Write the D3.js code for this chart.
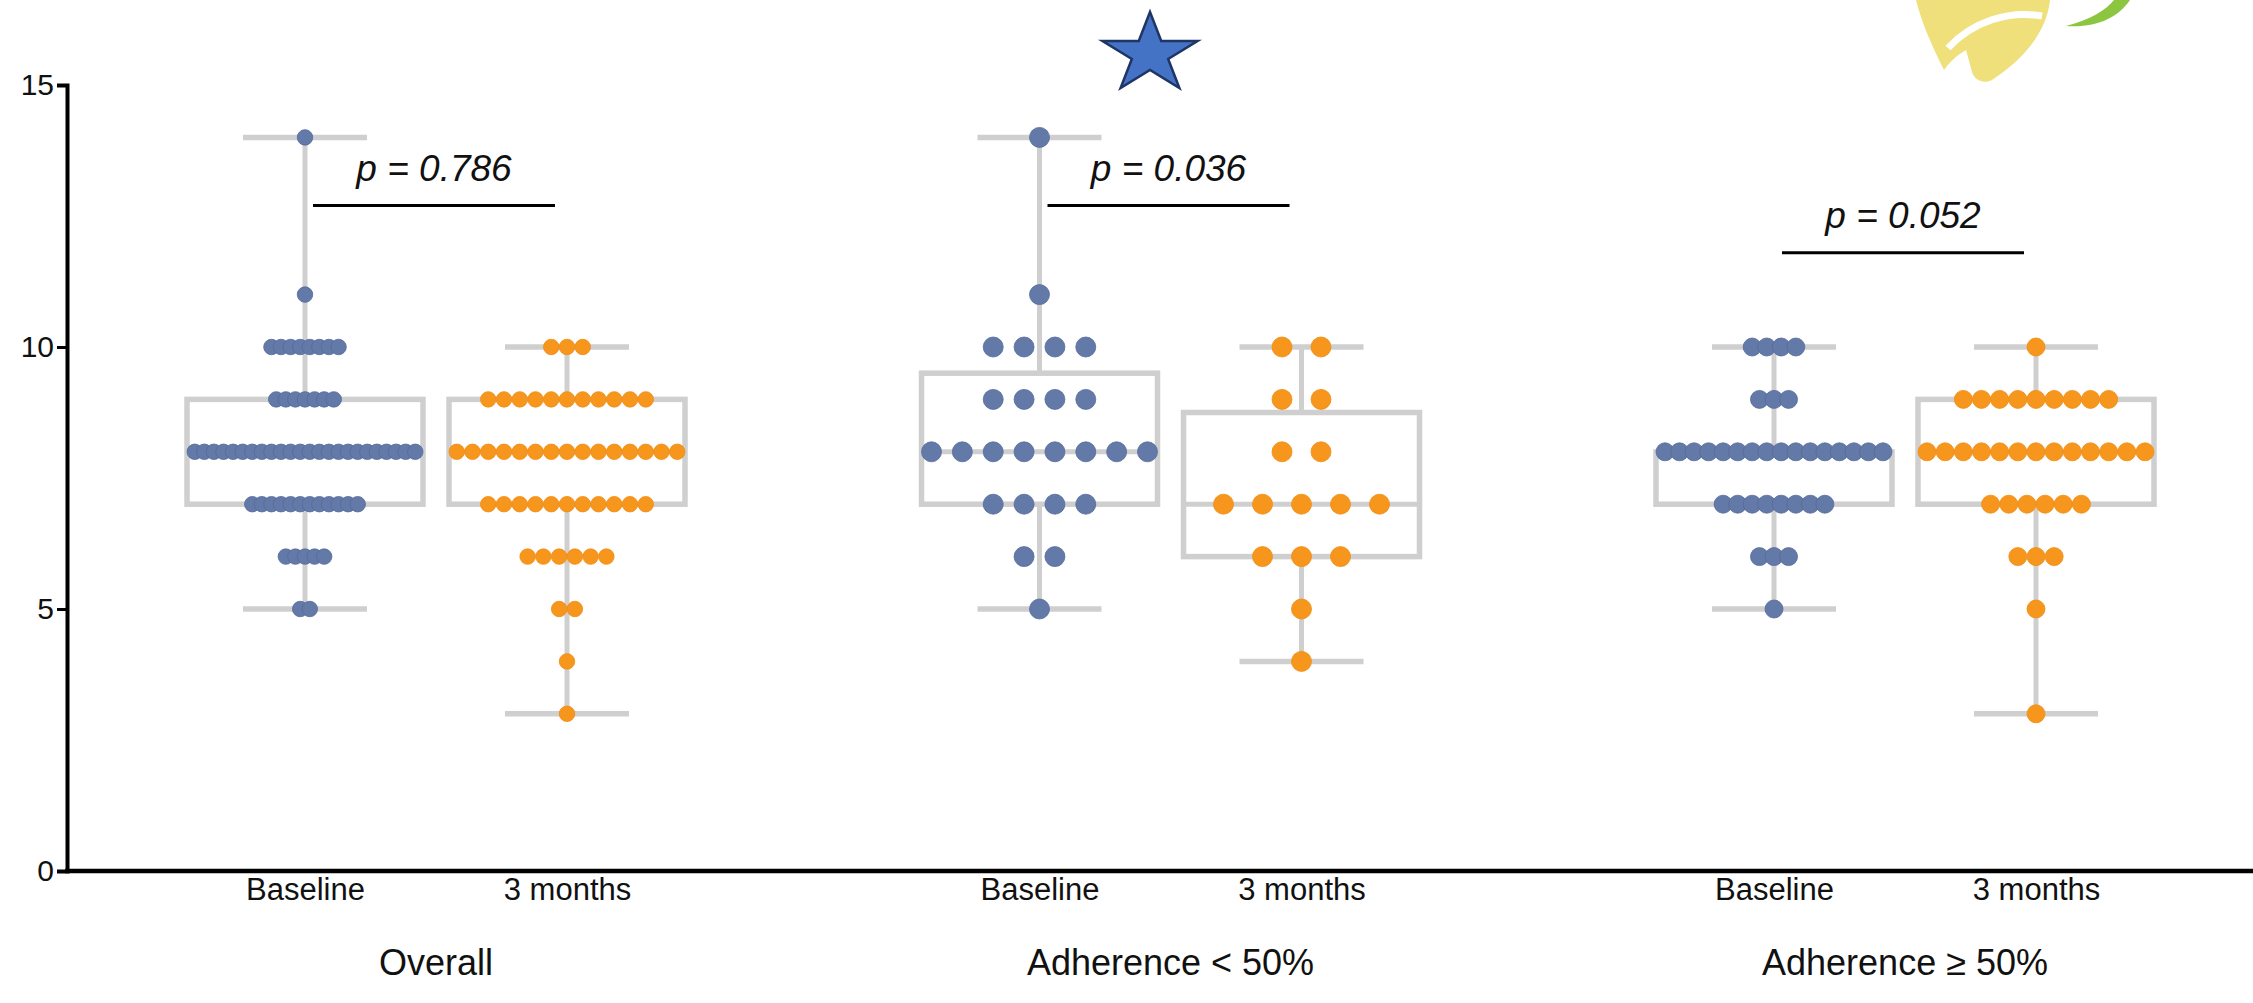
<!DOCTYPE html>
<html>
<head>
<meta charset="utf-8">
<script src="https://cdn.jsdelivr.net/npm/d3@7"></script>
<style>
  html, body { margin: 0; padding: 0; background: #ffffff; }
  svg { display: block; }
  text { font-family: "Liberation Sans", Arial, sans-serif; }
</style>
</head>
<body>
<svg id="chart" width="2253" height="1003"></svg>
<script>
// ---------------- DATA ----------------
const groups = ["Overall", "Adherence < 50%", "Adherence \u2265 50%"];
const timepoints = ["Baseline", "3 months"];
const scoreLevels = [3, 4, 5, 6, 7, 8, 9, 10, 11, 12, 13, 14];
// number of participants at each score level (same order as scoreLevels)
const overallBaseline   = [0, 0, 2, 5, 12, 24, 7, 8, 1, 0, 0, 1];
const overall3Months    = [1, 1, 2, 6, 11, 15, 11, 3, 0, 0, 0, 0];
const lowAdhBaseline    = [0, 0, 1, 2, 4, 8, 4, 4, 1, 0, 0, 1];
const lowAdh3Months     = [0, 1, 1, 3, 5, 2, 2, 2, 0, 0, 0, 0];
const highAdhBaseline   = [0, 0, 1, 3, 8, 16, 3, 4, 0, 0, 0, 0];
const highAdh3Months    = [1, 0, 1, 3, 6, 13, 9, 1, 0, 0, 0, 0];
const pValueLabels = ["p = 0.786", "p = 0.036", "p = 0.052"];
const pBarLevels = [12.7, 12.7, 11.8];
const yTicks = [0, 5, 10, 15];

// ---------------- LAYOUT / STYLE ----------------
const W = 2253, H = 1003;
const colors = { "Baseline": "#6379a7", "3 months": "#f7961d" };
const boxGray = "#cfcfcf";
const dotSize = { "Overall": 15.5, "Adherence < 50%": 20, "Adherence \u2265 50%": 18 };
const boxW = 236, capW = 124;

const seriesByGroup = {
  "Overall": { "Baseline": overallBaseline, "3 months": overall3Months },
  "Adherence < 50%": { "Baseline": lowAdhBaseline, "3 months": lowAdh3Months },
  "Adherence \u2265 50%": { "Baseline": highAdhBaseline, "3 months": highAdh3Months }
};

const svg = d3.select("#chart");
svg.append("rect").attr("width", W).attr("height", H).attr("fill", "#fff");

const y = d3.scaleLinear().domain([0, 15]).range([871, 85]);
const xGroup = d3.scalePoint().domain(groups).range([436, 1905]);
const xTime = d3.scalePoint().domain(timepoints).range([-131, 131]);

// ---------- decorative logo fragment (top right) ----------
const logo = svg.append("g");
logo.append("path")
  .attr("d", "M1916,0 L2050,0 C2047,30 2026,58 1992,80 C1984,84 1975,81 1972,72 L1966,50 C1956,56 1950,62 1944,70 C1933,48 1922,24 1916,0 Z")
  .attr("fill", "#efe07c");
logo.append("path")
  .attr("d", "M1948,48 C1972,22 2008,10 2042,16")
  .attr("fill", "none").attr("stroke", "#fff").attr("stroke-width", 7);
logo.append("path")
  .attr("d", "M2066,26 C2090,20 2106,10 2114,0 L2130,0 C2118,18 2096,28 2066,26 Z")
  .attr("fill", "#8cc540");

// ---------- star ----------
(function drawStar() {
  const cx = 1150, cy = 54, rx = 50, ry = 42, inner = 0.382;
  const pts = d3.range(10).map(i => {
    const a = -Math.PI / 2 + i * Math.PI / 5;
    const r = i % 2 === 0 ? 1 : inner;
    return [cx + rx * r * Math.cos(a), cy + ry * r * Math.sin(a)];
  });
  svg.append("path")
    .attr("d", d3.line()(pts) + "Z")
    .attr("fill", "#4472c4")
    .attr("stroke", "#1f3565")
    .attr("stroke-width", 2.5)
    .attr("stroke-linejoin", "miter");
})();

// ---------- axes ----------
const yAxis = d3.axisLeft(y).tickValues(yTicks).tickSize(10).tickPadding(3);
const gy = svg.append("g").attr("transform", "translate(67,0)").call(yAxis);
gy.select(".domain").attr("stroke", "#000").attr("stroke-width", 4);
gy.selectAll(".tick line").attr("stroke", "#000").attr("stroke-width", 3);
gy.selectAll(".tick text").attr("font-size", 30).attr("fill", "#111")
  .style("font-family", "'Liberation Sans', Arial, sans-serif");

svg.append("line")
  .attr("x1", 65).attr("x2", W).attr("y1", y(0)).attr("y2", y(0))
  .attr("stroke", "#000").attr("stroke-width", 4.5);

// quantile with (n+1) positioning
function quant(sorted, p) {
  const n = sorted.length;
  const pos = p * (n + 1);
  const lo = Math.floor(pos), frac = pos - lo;
  if (lo < 1) return sorted[0];
  if (lo >= n) return sorted[n - 1];
  return sorted[lo - 1] + frac * (sorted[lo] - sorted[lo - 1]);
}

groups.forEach((g, gi) => {
  const gx = xGroup(g);
  const gG = svg.append("g").attr("transform", `translate(${gx},0)`);

  // bottom tick labels per group
  const xAxis = d3.axisBottom(xTime).tickSize(0).tickPadding(7);
  const ga = gG.append("g").attr("transform", `translate(0,${y(0)})`).call(xAxis);
  ga.select(".domain").remove();
  ga.selectAll(".tick text").attr("font-size", 31).attr("fill", "#111")
    .style("font-family", "'Liberation Sans', Arial, sans-serif");

  // group label
  gG.append("text").attr("x", 0).attr("y", 975).attr("text-anchor", "middle")
    .attr("font-size", 36).attr("fill", "#111").text(g);

  timepoints.forEach(t => {
    const counts = seriesByGroup[g][t];
    const values = [];
    counts.forEach((c, i) => { for (let k = 0; k < c; k++) values.push(scoreLevels[i]); });
    values.sort((a, b) => a - b);
    const mn = values[0], mx = values[values.length - 1];
    const q1 = quant(values, 0.25), med = quant(values, 0.5), q3 = quant(values, 0.75);
    const cx = xTime(t);
    const col = gG.append("g").attr("transform", `translate(${cx},0)`);

    // whiskers
    col.append("line").attr("x1", 0).attr("x2", 0).attr("y1", y(mx)).attr("y2", y(q3))
      .attr("stroke", boxGray).attr("stroke-width", 5);
    col.append("line").attr("x1", 0).attr("x2", 0).attr("y1", y(q1)).attr("y2", y(mn))
      .attr("stroke", boxGray).attr("stroke-width", 5);
    [mx, mn].forEach(v => col.append("line")
      .attr("x1", -capW / 2).attr("x2", capW / 2).attr("y1", y(v)).attr("y2", y(v))
      .attr("stroke", boxGray).attr("stroke-width", 5.5));
    // box
    col.append("rect").attr("x", -boxW / 2).attr("width", boxW)
      .attr("y", y(q3)).attr("height", y(q1) - y(q3))
      .attr("fill", "#fff").attr("stroke", boxGray).attr("stroke-width", 5.5);
    col.append("line").attr("x1", -boxW / 2).attr("x2", boxW / 2)
      .attr("y1", y(med)).attr("y2", y(med)).attr("stroke", boxGray).attr("stroke-width", 5);

    // dots
    const d = dotSize[g];
    const maxN = d3.max(counts);
    const step = Math.min(1.95 * d, (boxW - d) / Math.max(1, maxN - 1));
    const dots = [];
    counts.forEach((c, i) => {
      for (let k = 0; k < c; k++) dots.push({ v: scoreLevels[i], off: (k - (c - 1) / 2) * step });
    });
    col.selectAll("circle.dot").data(dots).enter().append("circle")
      .attr("class", "dot")
      .attr("cx", p => p.off).attr("cy", p => y(p.v)).attr("r", d / 2)
      .attr("fill", colors[t])
      .attr("stroke", t === "Baseline" ? "#55699a" : "#f08c10")
      .attr("stroke-width", 0.8);
  });

  // p-value annotation
  const by = y(pBarLevels[gi]);
  gG.append("line").attr("x1", xTime("Baseline") + 8).attr("x2", xTime("3 months") - 12)
    .attr("y1", by).attr("y2", by).attr("stroke", "#000").attr("stroke-width", 3);
  gG.append("text").attr("x", (xTime("Baseline") + xTime("3 months")) / 2 - 2).attr("y", by - 25)
    .attr("text-anchor", "middle").attr("font-size", 37).attr("font-style", "italic")
    .attr("fill", "#111").text(pValueLabels[gi]);
});
</script>
</body>
</html>
